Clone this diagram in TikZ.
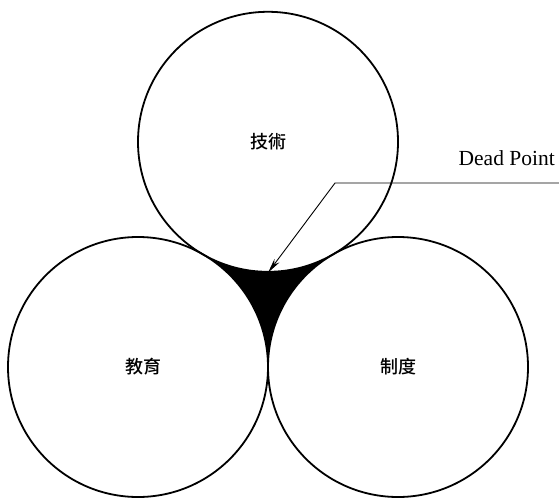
\documentclass[tikz,border=0pt]{standalone}
\usepackage{fontspec}
\setmainfont{Liberation Serif}
\newfontfamily\cjk{Noto Sans CJK TC Medium}
\usetikzlibrary{arrows.meta, positioning}

\begin{document}
\begin{tikzpicture}[x=1pt, y=1pt,
    ring/.style={circle, draw=black, line width=1.8pt, minimum size=260pt,
        inner sep=0pt, font=\cjk\fontsize{18}{21}\selectfont},
    leader/.style={line width=0.9pt, -{Stealth[length=15pt, width=6pt]}}]
    \useasboundingbox (0,0) rectangle (559,499);

    \node[ring] (tech) at (268,357.2) {技術};
    \node[ring] (edu) at (138,132) {\hspace{10pt}教育};
    \node[ring] (inst) at (398,132) {制度\hspace{14pt}};

    % gap between the three circles
    \fill ([shift={(240:130)}]tech.center)
        arc[start angle=240, end angle=300, radius=130]
        arc[start angle=120, end angle=180, radius=130]
        arc[start angle=0, end angle=60, radius=130] -- cycle;

    \coordinate (lineend) at (559,316);
    \coordinate (bend) at (335,316);
    \node[font=\fontsize{21.5}{24}\selectfont, anchor=base east, inner sep=0pt]
        (deadpt) at (555,334) {Dead Point};
    \draw[leader] (lineend) -- (bend) -- (tech.south);
\end{tikzpicture}
\end{document}
